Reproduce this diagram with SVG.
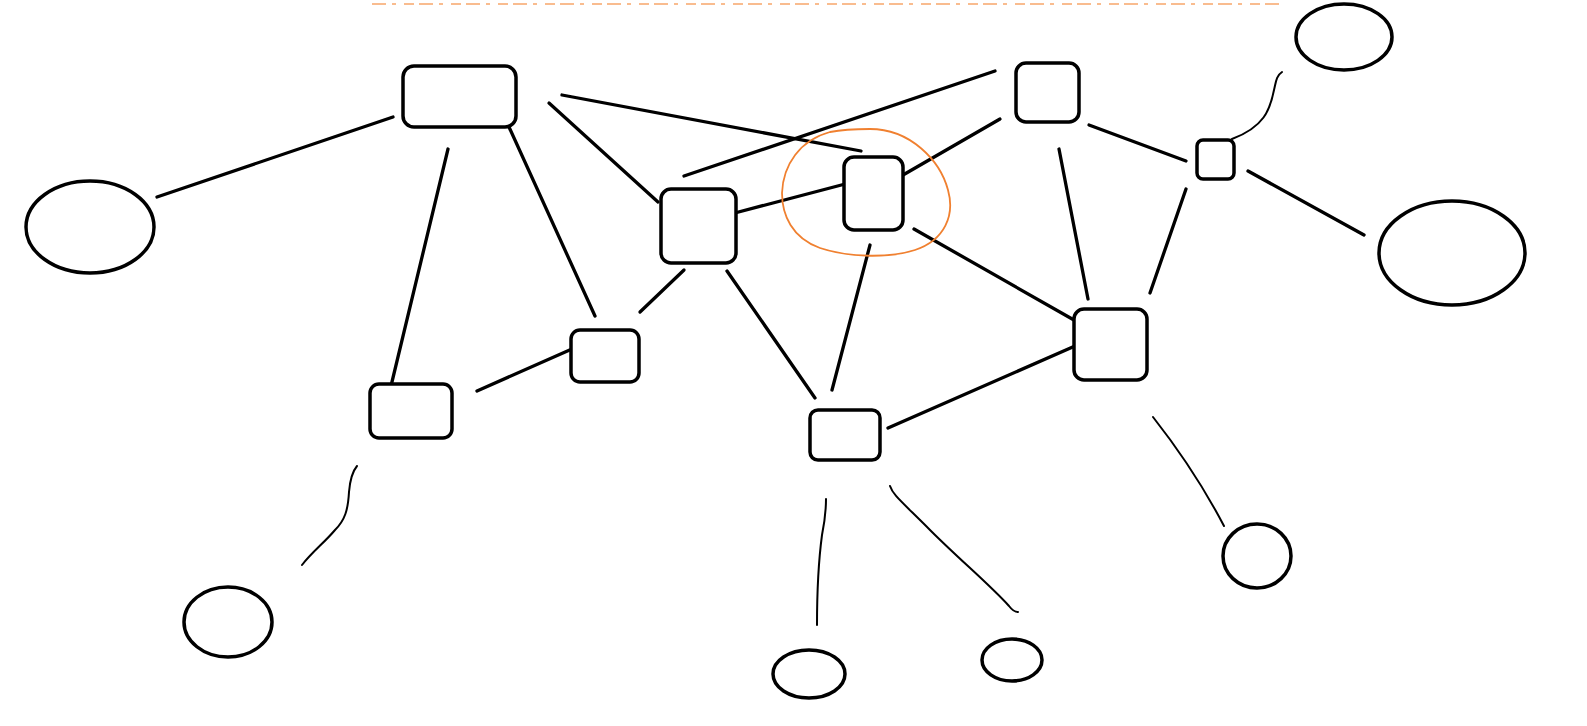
<svg xmlns="http://www.w3.org/2000/svg" width="1587" height="726" viewBox="0 0 1587 726">
<style>
.n{fill:#fff;stroke:#000;stroke-width:3.5}
.c{fill:none;stroke:#000;stroke-width:3.3;stroke-linecap:round}
.t{fill:none;stroke:#000;stroke-width:2;stroke-linecap:round}
</style>
<rect width="1587" height="726" fill="#fff"/>
<line x1="372" y1="4" x2="1285" y2="4" stroke="#f7a060" stroke-width="2" stroke-dasharray="14 6 4 8 10 5" opacity="0.7"/>
<g id="connectors">
<line class="c" x1="157" y1="197" x2="393" y2="117"/>
<line class="c" x1="562" y1="95" x2="861" y2="151"/>
<line class="c" x1="549" y1="103" x2="658" y2="202"/>
<line class="c" x1="448" y1="149" x2="391" y2="386"/>
<line class="c" x1="509" y1="127" x2="595" y2="316"/>
<line class="c" x1="477" y1="391" x2="581" y2="345"/>
<line class="c" x1="640" y1="312" x2="684" y2="270"/>
<line class="c" x1="727" y1="271" x2="815" y2="398"/>
<line class="c" x1="684" y1="176" x2="995" y2="71"/>
<line class="c" x1="731" y1="214" x2="849" y2="183"/>
<line class="c" x1="903" y1="175" x2="1000" y2="119"/>
<line class="c" x1="870" y1="245" x2="832" y2="390"/>
<line class="c" x1="914" y1="229" x2="1081" y2="324"/>
<line class="c" x1="1089" y1="125" x2="1186" y2="161"/>
<line class="c" x1="1059" y1="149" x2="1088" y2="299"/>
<line class="c" x1="1186" y1="189" x2="1150" y2="293"/>
<line class="c" x1="1248" y1="171" x2="1364" y2="235"/>
<line class="c" x1="888" y1="428" x2="1075" y2="346"/>
<path class="t" d="M1282 72 C1276 76 1276 82 1274 90 C1270 110 1264 127 1232 139"/>
<path class="t" d="M1153 417 C1175 445 1200 480 1224 526"/>
<path class="t" d="M826 499 C826 515 824 525 822 535 C818 565 817 595 817 625"/>
<path class="t" d="M890 486 C893 495 900 500 930 530 C960 560 990 585 1009 606 C1012 610 1015 612 1018 612"/>
<path class="t" d="M357 466 C352 472 350 480 349 492 C348 510 345 520 335 530 C325 542 312 552 302 565"/>
</g>
<g id="nA"><rect class="n" x="403" y="66" width="113" height="61" rx="11"/></g>
<g id="nL"><ellipse class="n" cx="90" cy="227" rx="64" ry="46"/></g>
<g id="nB"><rect class="n" x="661" y="189" width="75" height="74" rx="10"/></g>
<g id="nC"><rect class="n" x="844" y="157" width="59" height="73" rx="10"/></g>
<g id="hl"><path d="M870 129 C910 129 940 160 948 190 C955 215 945 240 915 250 C890 258 850 258 820 248 C792 238 782 215 782 193 C783 165 800 140 830 132 C845 129 858 129 870 129 Z" fill="none" stroke="#f08030" stroke-width="1.8"/></g>
<g id="nD"><rect class="n" x="1016" y="63" width="63" height="59" rx="10"/></g>
<g id="nE"><rect class="n" x="1197" y="140" width="37" height="39" rx="6"/></g>
<g id="nTR"><ellipse class="n" cx="1344" cy="37" rx="48" ry="33"/></g>
<g id="nR"><ellipse class="n" cx="1452" cy="253" rx="73" ry="52"/></g>
<g id="nF"><rect class="n" x="1074" y="309" width="73" height="71" rx="10"/></g>
<g id="nG"><rect class="n" x="571" y="330" width="68" height="52" rx="9"/></g>
<g id="nH"><rect class="n" x="370" y="384" width="82" height="54" rx="9"/></g>
<g id="nI"><rect class="n" x="810" y="410" width="70" height="50" rx="8"/></g>
<g id="nBL"><ellipse class="n" cx="228" cy="622" rx="44" ry="35"/></g>
<g id="nB1"><ellipse class="n" cx="809" cy="674" rx="36" ry="24"/></g>
<g id="nB2"><ellipse class="n" cx="1012" cy="660" rx="30" ry="21"/></g>
<g id="nBR"><ellipse class="n" cx="1257" cy="556" rx="34" ry="32"/></g>
</svg>
